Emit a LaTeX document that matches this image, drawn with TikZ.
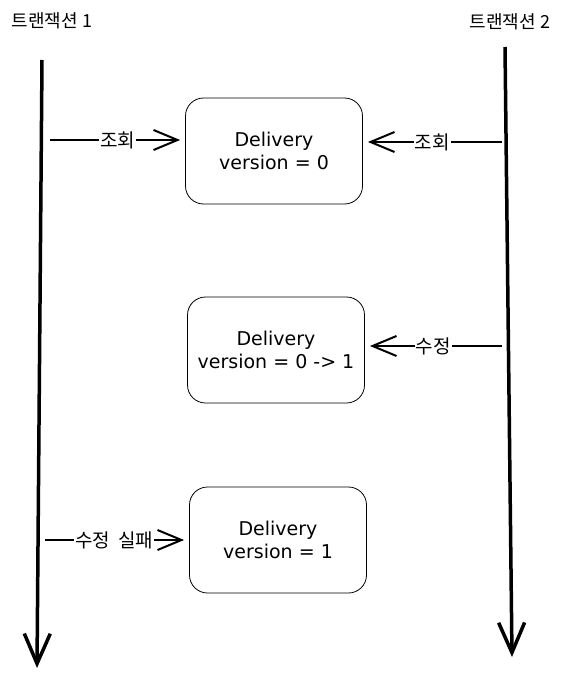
\documentclass[tikz,border=0pt]{standalone}
\usepackage{fontspec}
\setmainfont{DejaVu Sans}
\newfontfamily\krfont{Noto Sans CJK KR}
\usetikzlibrary{arrows.meta}
\begin{document}
\begin{tikzpicture}[x=1pt,y=-1pt,node distance=195pt,
    box/.style={draw, rounded corners=18pt, line width=0.8pt, minimum width=177pt, minimum height=106pt, align=center, font=\fontsize{19}{23}\selectfont},
    lifeline/.style={line width=3.5pt, -{Straight Barb[length=30pt,width=26pt]}},
    call/.style={line width=2pt, -{Straight Barb[length=24pt,width=20pt]}, shorten >=5pt},
    lbl/.style={fill=white, inner sep=1pt, font=\krfont\fontsize{19}{19}\selectfont},
    title/.style={font=\krfont\fontsize{18}{18}\selectfont}]
    \useasboundingbox (0,0) rectangle (567,676);

    \node (title1) [title] at (52,21) {트랜잭션 1};
    \node (title2) [title] at (510,22) {트랜잭션 2};

    \coordinate (t1top) at (42,60);
    \coordinate (t1end) at (37,668);
    \coordinate (t2top) at (505,47);
    \coordinate (t2end) at (512,657);
    \draw[lifeline] (t1top) -- (t1end);
    \draw[lifeline] (t2top) -- (t2end);

    \node (box1) [box] at (274,151) {Delivery\\version = 0};
    \node (box2) [box, below of=box1, xshift=2pt, yshift=-4pt] {Delivery\\version = 0 -> 1};
    \node (box3) [box, below of=box2, xshift=2pt, yshift=5pt] {Delivery\\version = 1};

    \coordinate (t1read) at (50,140);
    \coordinate (t2read) at (502,142);
    \coordinate (t2upd) at (502,346);
    \coordinate (t1upd) at (45,540);

    \draw[call] (t1read) -- node[lbl] {조회} (t1read -| box1.west);
    \draw[call] (t2read) -- node[lbl] {조회} (t2read -| box1.east);
    \draw[call] (t2upd) -- node[lbl] {수정} (t2upd -| box2.east);
    \draw[call] (t1upd) -- node[lbl, xshift=-3pt] {수정\hspace{8pt}실패} (t1upd -| box3.west);
\end{tikzpicture}
\end{document}
